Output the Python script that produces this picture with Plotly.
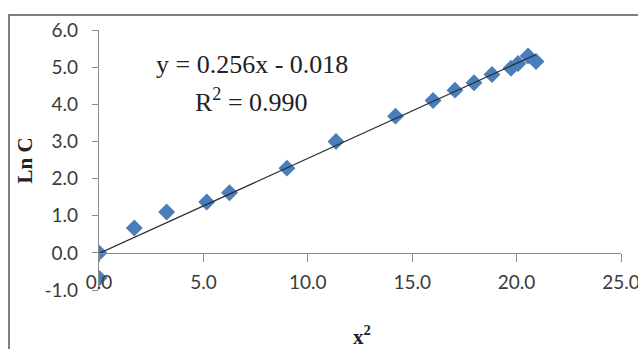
import plotly.graph_objects as go

# data
x_sq = [0.0, 0.0, 1.69, 3.24, 5.16, 6.25, 9.0, 11.35, 14.2, 16.0, 17.05, 17.96, 18.82, 19.73, 20.07, 20.55, 20.93]
ln_c = [0.0, -0.68, 0.67, 1.1, 1.37, 1.62, 2.28, 3.0, 3.68, 4.1, 4.38, 4.58, 4.8, 4.97, 5.1, 5.3, 5.15]

# linear trendline as given on the chart
slope = 0.256
intercept = -0.018
fit_x = [min(x_sq), max(x_sq)]
fit_y = [slope * v + intercept for v in fit_x]

x_ticks = [0, 5, 10, 15, 20, 25]
y_ticks = [-1, 0, 1, 2, 3, 4, 5, 6]

fig = go.Figure()

fig.add_trace(go.Scatter(
    x=x_sq, y=ln_c, mode="markers",
    marker=dict(symbol="diamond", size=13, color="#4a7ebb", line=dict(width=0)),
    showlegend=False))

fig.add_trace(go.Scatter(
    x=fit_x, y=fit_y, mode="lines",
    line=dict(color="#2b2b2b", width=1.2),
    showlegend=False))

axis_font = dict(family="Lato, Open Sans, sans-serif", size=19, color="#3a3a3a")

fig.update_xaxes(
    range=[0, 25], tickvals=x_ticks, ticktext=[f"{v:.1f}" for v in x_ticks],
    anchor="free", position=1 / 7, automargin=False,
    showline=True, linecolor="#8c8c8c", linewidth=1.3,
    ticks="outside", ticklen=8, tickcolor="#8c8c8c", tickwidth=1.3,
    ticklabelstandoff=4, ticklabeloverflow="allow",
    showgrid=False, zeroline=False, tickfont=axis_font)

fig.update_yaxes(
    range=[-1, 6], tickvals=y_ticks, ticktext=[f"{v:.1f}" for v in y_ticks],
    automargin=False,
    showline=True, linecolor="#8c8c8c", linewidth=1.3,
    ticks="outside", ticklen=6, tickcolor="#8c8c8c", tickwidth=1.3,
    ticklabelstandoff=10,
    showgrid=False, zeroline=False, tickfont=axis_font)

serif = "Liberation Serif, Times New Roman, serif"

fig.add_annotation(x=0.293, y=0.869, xref="paper", yref="paper",
                   xanchor="center", yanchor="middle",
                   text="y = 0.256x - 0.018", showarrow=False,
                   font=dict(family=serif, size=26, color="#222222"))
fig.add_annotation(x=0.293, y=0.727, xref="paper", yref="paper",
                   xanchor="center", yanchor="middle",
                   text="R<sup>2</sup> = 0.990", showarrow=False,
                   font=dict(family=serif, size=26, color="#222222"))

# axis titles
fig.add_annotation(x=-0.141, y=0.5, xref="paper", yref="paper",
                   xanchor="center", yanchor="middle",
                   text="<b>Ln C</b>", textangle=-90, showarrow=False,
                   font=dict(family=serif, size=21, color="#222222"))
fig.add_annotation(x=0.504, y=-0.175, xref="paper", yref="paper",
                   xanchor="center", yanchor="middle",
                   text="<b>x<sup>2</sup></b>", showarrow=False,
                   font=dict(family=serif, size=21, color="#222222"))

# outer chart frame (only left and top edges fall inside the picture)
fig.add_shape(type="rect", xref="paper", yref="paper",
              x0=-0.1724, x1=1.08, y0=-0.3, y1=1.0577,
              line=dict(color="#555555", width=1.5), layer="below")

fig.update_layout(
    width=638, height=349,
    margin=dict(l=99, r=17, t=30, b=59),
    paper_bgcolor="white", plot_bgcolor="white")

# drop the browser's default body margin so the figure fills the window
fig.write_html("out.html", config={"displayModeBar": False},
               post_script="document.body.style.margin='0';")
